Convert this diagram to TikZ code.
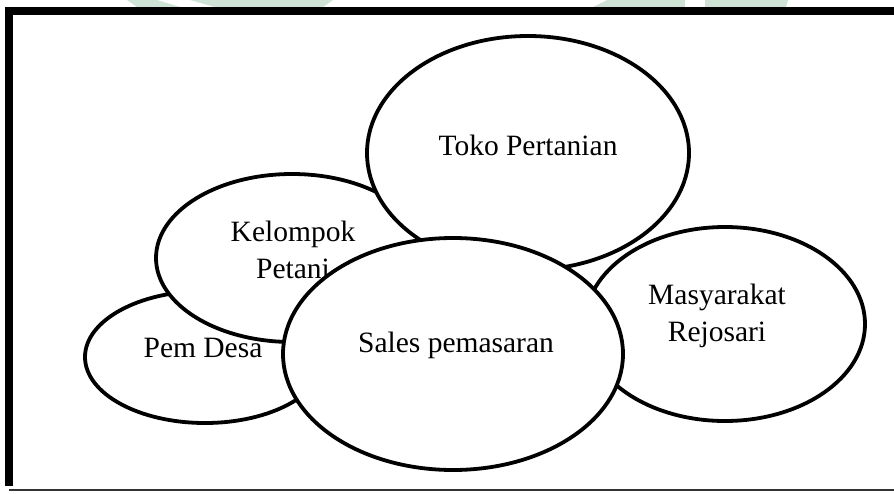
\documentclass[tikz,border=0pt]{standalone}
\usepackage{fontspec}
\setmainfont{Liberation Serif}
\usetikzlibrary{shapes.geometric}
\definecolor{wmgreen}{RGB}{206,226,214}
\begin{document}
\begin{tikzpicture}[x=1pt,y=-1pt,
  blob/.style={ellipse,draw=black,line width=3.8pt,fill=white,inner sep=0pt},
  label text/.style={align=center,font=\fontsize{29.5}{37.5}\selectfont},
  frame/.style={draw=black,line width=8pt}]
\useasboundingbox (0,0) rectangle (894,493);
\fill[white] (0,0) rectangle (894,493);
% faint mark along the top edge
\fill[wmgreen] (127,0) -- (157,0) -- (180,7) -- (137,7) -- cycle;
\fill[wmgreen] (190,0) -- (333,0) -- (323,7) -- (215,7) -- cycle;
\fill[wmgreen] (607,0) -- (685,0) -- (685,7) -- (593,7) -- cycle;
\fill[wmgreen] (705,0) -- (788,0) -- (786,7) -- (705,7) -- cycle;
% outer frame
\coordinate (tr) at (894,11);
\coordinate (tl) at (9,11);
\coordinate (bl) at (9,490);
\coordinate (br) at (894,490);
\draw[line width=1.5pt,draw=black!80] (bl) -- (br);
\draw[frame] (tr) -- (tl) -- ([yshift=4pt]bl);
% overlapping ellipses, back to front
\node[blob,minimum width=240pt,minimum height=132pt] (desa) at (205,357) {};
\node[label text] (desaT) at (203,348) {Pem Desa};
\node[blob,minimum width=272pt,minimum height=168pt] (kelompok) at (292,258) {};
\node[label text] (kelompokT) at (293,250) {Kelompok\\Petani};
\node[blob,minimum width=280pt,minimum height=194pt] (masyarakat) at (725,324) {};
\node[label text] (masyarakatT) at (717,316) {Masyarakat\\Rejosari};
\node[blob,minimum width=322pt,minimum height=234pt] (toko) at (528,153) {};
\node[label text] (tokoT) at (528,145) {Toko Pertanian};
\node[blob,minimum width=340pt,minimum height=232pt] (sales) at (453,354) {};
\node[label text] (salesT) at (456,345) {Sales pemasaran};
\end{tikzpicture}
\end{document}
